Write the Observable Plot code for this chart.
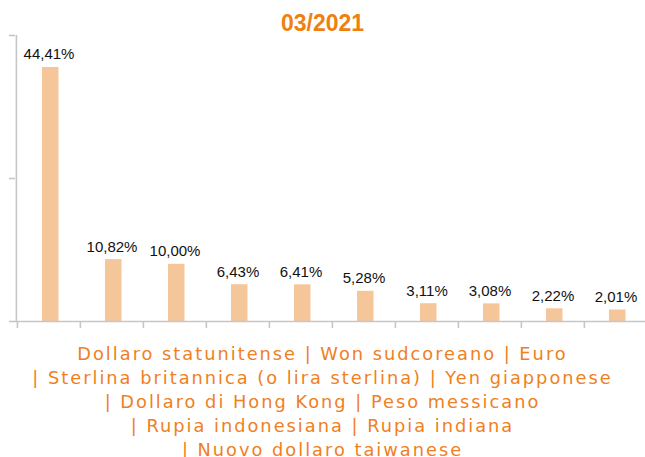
<!DOCTYPE html>
<html>
<head>
<meta charset="utf-8">
<script src="https://cdn.jsdelivr.net/npm/d3@7"></script>
<script src="https://cdn.jsdelivr.net/npm/@observablehq/plot@0.6"></script>
<style>
  html, body { margin: 0; padding: 0; background: #fff; }
  #wrap { position: relative; width: 645px; height: 457px; overflow: hidden; }
  #title { position: absolute; left: 0; top: 0; width: 645px; text-align: center;
    font: bold 23px "Liberation Sans", Arial, sans-serif; color: #f07f0e;
    line-height: 26px; padding-top: 10px; }
  #chart { position: absolute; left: 0; top: 0; }
  #caption { position: absolute; left: 0; top: 342px; width: 645px; text-align: center;
    font: 17.8px "DejaVu Sans", Verdana, sans-serif; color: #f0801e; letter-spacing: 2px;
    line-height: 24px; white-space: nowrap; }
</style>
</head>
<body>
<div id="wrap">
  <div id="chart"></div>
  <div id="title"></div>
  <div id="caption"></div>
</div>
<script>
const title = "03/2021";
const categories = [
  "Dollaro statunitense", "Won sudcoreano", "Euro",
  "Sterlina britannica (o lira sterlina)", "Yen giapponese",
  "Dollaro di Hong Kong", "Peso messicano",
  "Rupia indonesiana", "Rupia indiana", "Nuovo dollaro taiwanese"
];
const values = [44.41, 10.82, 10.00, 6.43, 6.41, 5.28, 3.11, 3.08, 2.22, 2.01];
const yTicks = [0, 25, 50];
const captionLines = [[0, 1, 2], [3, 4], [5, 6], [7, 8], [9]];

const data = categories.map((c, i) => ({category: c, value: values[i]}));
const fmt = v => v.toFixed(2).replace(".", ",") + "%";

const xRange = [16, 648];
const step = (xRange[1] - xRange[0]) / categories.length;
const grey = "#c6c6c6";

const plot = Plot.plot({
  width: 645,
  height: 335,
  marginTop: 35,
  marginBottom: 14,
  marginLeft: 15,
  marginRight: 0,
  x: {domain: categories, range: xRange, padding: 0, axis: null},
  y: {domain: [0, 50], axis: null},
  marks: [
    Plot.barY(data, {x: "category", y: "value", fill: "#f6c69b", insetLeft: 25, insetRight: 21.5}),
    Plot.text(data, {x: "category", y: "value", text: d => fmt(d.value), lineAnchor: "bottom", dy: -8,
      fontSize: 15, fill: "#111", fontFamily: "Liberation Sans, Arial, sans-serif"}),
    Plot.ruleX([categories[0]], {x: d => d, y1: 0, y2: 50, dx: -step / 2 - 1, stroke: grey, strokeWidth: 1.6}),
    Plot.axisY({ticks: yTicks, tickSize: 6, tickFormat: () => "", label: null, stroke: grey, strokeWidth: 1.6}),
    Plot.ruleY([0], {stroke: grey, strokeWidth: 1.6}),
    Plot.axisX({tickSize: 7, tickFormat: () => "", label: null, dx: -step / 2, stroke: grey, strokeWidth: 1.6})
  ]
});
document.getElementById("chart").appendChild(plot);
document.getElementById("title").textContent = title;
document.getElementById("caption").innerHTML = captionLines
  .map((idx, li) => (li === 0 ? "" : "| ") + idx.map(i => categories[i]).join(" | "))
  .join("<br>");
</script>
</body>
</html>
